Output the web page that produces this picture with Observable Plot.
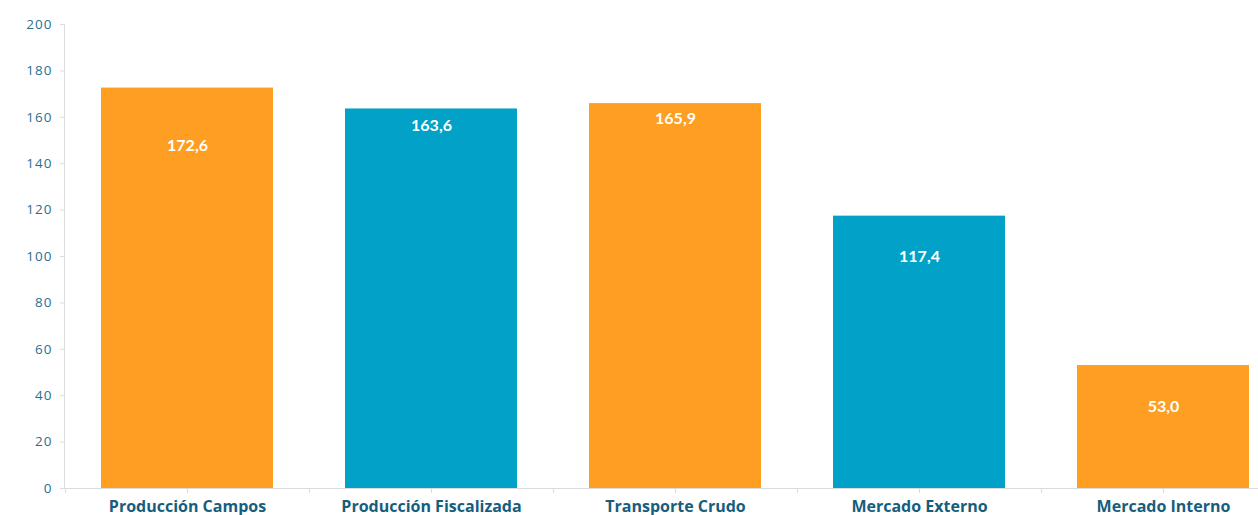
<!DOCTYPE html>
<html>
<head>
<meta charset="utf-8">
<script src="https://cdn.jsdelivr.net/npm/d3@7"></script>
<script src="https://cdn.jsdelivr.net/npm/@observablehq/plot@0.6"></script>
<style>
  html, body { margin: 0; padding: 0; background: #fff; overflow: hidden; }
  #chart svg { display: block; }
  .yax text { letter-spacing: 1px; }
</style>
</head>
<body>
<div id="chart"></div>
<script>
const categories = ["Producción Campos", "Producción Fiscalizada", "Transporte Crudo", "Mercado Externo", "Mercado Interno"];
const values = [172.6, 163.6, 165.9, 117.4, 53.0];
const groups = ["naranja", "azul", "naranja", "azul", "naranja"];
const yTicks = [0, 20, 40, 60, 80, 100, 120, 140, 160, 180, 200];

// label offsets below bar top (px) – style only
const labelOffsetPx = [58, 17, 15, 41, 41];

const data = categories.map((c, i) => ({category: c, value: values[i], group: groups[i], off: labelOffsetPx[i]}));
const fmt = v => d3.format(".1f")(v).replace(".", ",");

const W = 1258, H = 515;
const mTop = 24, mBottom = 27, mLeft = 64;
const pxPerUnit = (H - mTop - mBottom) / 200;
const step = 244;

const plot = Plot.plot({
  width: W,
  height: H,
  marginTop: mTop,
  marginBottom: mBottom,
  marginLeft: mLeft,
  marginRight: 0,
  style: {fontFamily: "Lato, sans-serif", background: "#fff", overflow: "visible"},
  x: {domain: categories, range: [mLeft + 1, mLeft + 1 + step * 5], paddingInner: 0.295, paddingOuter: 0.1475, label: null},
  y: {domain: [0, 200], label: null},
  color: {domain: ["naranja", "azul"], range: ["#FE9E22", "#02A2C8"]},
  marks: [
    Plot.frame({anchor: "left", stroke: "#dcdcdc", strokeOpacity: 1}),
    Plot.ruleY([0], {stroke: "#dcdcdc"}),
    Plot.barY(data, {x: "category", y: "value", fill: "group"}),
    Plot.text(data, {
      x: "category",
      y: d => d.value - d.off / pxPerUnit,
      text: d => fmt(d.value),
      fill: "#fff",
      fontSize: 16,
      fontWeight: "bold"
    }),
    Plot.axisY({
      ticks: yTicks,
      tickSize: 4,
      tickPadding: 8,
      stroke: "#dcdcdc",
      fill: "#2a6f8f",
      fontSize: 13.5,
      fontFamily: "'Open Sans', sans-serif",
      className: "yax",
      tickFormat: d => String(d)
    }),
    Plot.axisX({
      tickSize: 5,
      tickPadding: 7,
      stroke: "#dcdcdc",
      fill: "#175d7d",
      fontSize: 16,
      fontWeight: "bold",
      fontFamily: "'Open Sans', sans-serif"
    }),
    Plot.ruleX(categories, {x: d => d, y1: 0, y2: -5 / pxPerUnit, dx: -step / 2, stroke: "#dcdcdc"})
  ]
});
document.getElementById("chart").appendChild(plot);
</script>
</body>
</html>
